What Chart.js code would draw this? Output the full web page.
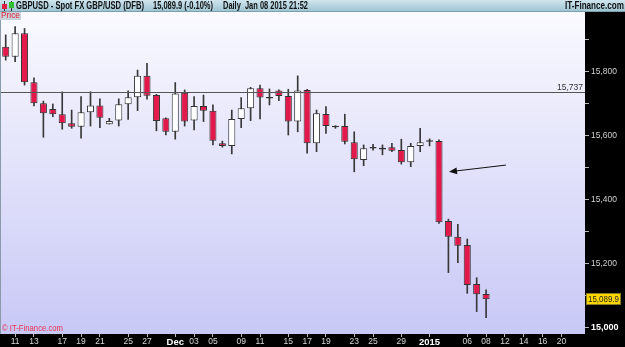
<!DOCTYPE html>
<html><head><meta charset="utf-8">
<script src="https://cdn.jsdelivr.net/npm/chart.js@4/dist/chart.umd.min.js"></script>
<style>html,body{margin:0;padding:0;background:#000;overflow:hidden}#wrap{width:625px;height:347px;position:relative}</style>
</head><body><div id="wrap"><canvas id="c" width="625" height="347"></canvas></div>
<script>
// ---- data ----
const dates = [
 '2014-11-10','2014-11-11','2014-11-12','2014-11-13','2014-11-14','2014-11-16','2014-11-17','2014-11-18','2014-11-19','2014-11-20','2014-11-21','2014-11-23','2014-11-24','2014-11-25','2014-11-26','2014-11-27','2014-11-28','2014-11-30',
 '2014-12-01','2014-12-02','2014-12-03','2014-12-04','2014-12-05','2014-12-07','2014-12-08','2014-12-09','2014-12-10','2014-12-11','2014-12-12','2014-12-14','2014-12-15','2014-12-16','2014-12-17','2014-12-18','2014-12-19','2014-12-21','2014-12-22','2014-12-23','2014-12-24','2014-12-25','2014-12-26','2014-12-28','2014-12-29','2014-12-30','2014-12-31',
 '2015-01-01','2015-01-02','2015-01-04','2015-01-05','2015-01-06','2015-01-07','2015-01-08',
 '2015-01-09','2015-01-12','2015-01-13','2015-01-14','2015-01-15','2015-01-16','2015-01-19','2015-01-20','2015-01-21','2015-01-22'
];
const tickLabels = [
 '','11','','13','','','17','','19','','21','','','25','','27','','',
 'Dec','','03','','05','','','09','','11','','','15','','17','','19','','','23','','25','','','29','','',
 '2015','','','','06','','08',
 '','12','','14','','16','','20','',''
];
const opens  = [15879,15848,15921,15768,15702,15684,15668,15640,15629,15674,15695,15637,15648,15699,15721,15788,15728,15655,
 15613,15735,15648,15694,15679,15577,15569,15653,15687,15749,15720,15742,15725,15645,15744,15577,15669,15629,15631,15580,15525,15563,15563,15565,15556,15518,15569,
 15582,15584,15334,15285,15259,15137,15106];
const highs  = [15916,15942,15936,15782,15709,15700,15738,15681,15723,15738,15716,15655,15716,15741,15806,15827,15730,15657,
 15767,15744,15723,15728,15697,15584,15681,15720,15752,15759,15747,15744,15746,15788,15746,15681,15692,15632,15668,15613,15572,15574,15572,15577,15590,15577,15624,
 15591,15588,15340,15324,15278,15157,15119];
const lows   = [15837,15832,15759,15694,15596,15660,15621,15624,15593,15631,15626,15637,15631,15652,15679,15715,15616,15603,
 15590,15631,15619,15645,15572,15565,15544,15626,15648,15653,15697,15710,15603,15613,15546,15551,15608,15624,15575,15488,15507,15556,15541,15551,15512,15504,15551,
 15569,15327,15173,15204,15108,15051,15032];
const closes = [15848,15921,15768,15702,15671,15668,15640,15629,15674,15695,15657,15647,15699,15721,15788,15726,15647,15613,
 15733,15645,15694,15679,15585,15569,15653,15687,15749,15720,15717,15725,15645,15742,15577,15671,15631,15627,15582,15527,15562,15561,15558,15554,15518,15569,15580,
 15584,15330,15285,15257,15134,15105,15089.9];
const yTickValues = [15000,15100,15200,15300,15400,15500,15600,15700,15800,15900];
const yTickLabels = ['15,000','','15,200','','15,400','','15,600','','15,800',''];
const refLevel = 15737;
const yMin = 14981, yMax = 15987.5;
const arrowFrom = {i: 53.1, v: 15509};
const arrowTo   = {i: 47.06, v: 15488};
const titleText = 'GBPUSD - Spot FX GBP/USD (DFB)';
const quoteText = '15,089.9 (-0.10%)';
const dateText  = 'Daily  Jan 08 2015 21:52';
const siteText  = 'IT-Finance.com';

// ---- build ----
const FAM = '"Liberation Sans", Arial, sans-serif';
const fmt = (v, d=0) => v.toFixed(d).replace(/\B(?=(\d{3})+(?!\d))/g, ',');
const bodies = opens.map((o,i)=>[o, closes[i]]);
const wicks = lows.map((l,i)=>[l, highs[i]]);
const bodyColors = opens.map((o,i)=> Math.abs(closes[i]-o) < 4 ? '#333' : (closes[i] < o ? '#E3184B' : '#FFFFFF'));
const lastClose = closes[closes.length-1];
const isBoldX = c => c && (tickLabels[c.index] === 'Dec' || tickLabels[c.index] === '2015');
const isBoldY = c => !!(c && c.tick && c.tick.value === 15000);

function drawFit(ctx, text, x, y, w, font, color, align) {
  ctx.save();
  ctx.font = font; ctx.fillStyle = color; ctx.textBaseline = 'middle'; ctx.textAlign = 'left';
  const m = ctx.measureText(text).width;
  const s = w / m;
  const x0 = align === 'right' ? x - w : x;
  ctx.translate(x0, y); ctx.scale(s, 1);
  ctx.fillText(text, 0, 0);
  ctx.restore();
}

const bgPlugin = {
  id: 'bg',
  beforeDraw(chart) {
    const {ctx, chartArea: a, width, height} = chart;
    ctx.save();
    ctx.fillStyle = '#000'; ctx.fillRect(0, 0, width, height);
    const g = ctx.createLinearGradient(0, a.top, 0, a.bottom);
    g.addColorStop(0, '#FAFAFF'); g.addColorStop(1, '#C8C8F6');
    ctx.fillStyle = g; ctx.fillRect(0, a.top, a.right, a.bottom - a.top);
    ctx.fillStyle = '#8A9AAA'; ctx.fillRect(0, a.top, 1, a.bottom - a.top);
    const h = ctx.createLinearGradient(0, 0, 0, a.top);
    h.addColorStop(0, '#CFE5EE'); h.addColorStop(1, '#9CC3D1');
    ctx.fillStyle = h; ctx.fillRect(0, 0, width, a.top);
    ctx.fillStyle = '#7C9FAE'; ctx.fillRect(0, a.top - 1, width, 1);
    ctx.restore();
  }
};

const overlayPlugin = {
  id: 'overlay',
  afterDatasetsDraw(chart) {
    const {ctx, chartArea: a, scales: {x, y}} = chart;
    ctx.save();
    const ry = Math.round(y.getPixelForValue(refLevel)) + 0.5;
    ctx.strokeStyle = '#555'; ctx.lineWidth = 1.2;
    ctx.beginPath(); ctx.moveTo(a.left, ry); ctx.lineTo(a.right, ry); ctx.stroke();
    ctx.fillStyle = '#333'; ctx.font = '8.5px ' + FAM;
    ctx.textAlign = 'right'; ctx.textBaseline = 'bottom';
    ctx.fillText(fmt(refLevel), a.right - 2, ry - 1);
    const x1 = x.getPixelForValue(arrowFrom.i), y1 = y.getPixelForValue(arrowFrom.v);
    const x2 = x.getPixelForValue(arrowTo.i), y2 = y.getPixelForValue(arrowTo.v);
    ctx.strokeStyle = '#111'; ctx.lineWidth = 1;
    ctx.beginPath(); ctx.moveTo(x1, y1); ctx.lineTo(x2 + 5, y2 - 0.6); ctx.stroke();
    const ang = Math.atan2(y2 - y1, x2 - x1);
    ctx.fillStyle = '#111';
    ctx.beginPath();
    ctx.moveTo(x2, y2);
    ctx.lineTo(x2 - 8*Math.cos(ang) + 3.5*Math.sin(ang), y2 - 8*Math.sin(ang) - 3.5*Math.cos(ang));
    ctx.lineTo(x2 - 8*Math.cos(ang) - 3.5*Math.sin(ang), y2 - 8*Math.sin(ang) + 3.5*Math.cos(ang));
    ctx.closePath(); ctx.fill();
    ctx.restore();
  },
  afterDraw(chart) {
    const {ctx, chartArea: a, scales: {y}, width} = chart;
    ctx.save();
    const py = Math.round(y.getPixelForValue(lastClose));
    ctx.fillStyle = '#FFD700'; ctx.fillRect(a.right + 1, py - 6, 35, 12);
    ctx.strokeStyle = '#8a7a20'; ctx.lineWidth = 1; ctx.strokeRect(a.right + 1.5, py - 5.5, 34, 11);
    drawFit(ctx, fmt(lastClose, 1), a.right + 3, py + 0.5, 31, '9px ' + FAM, '#222');
    const f = 'bold 10px ' + FAM;
    drawFit(ctx, titleText, 16, 6, 128, f, '#101010');
    drawFit(ctx, quoteText, 153, 6, 60, f, '#101010');
    drawFit(ctx, dateText, 223, 6, 85, f, '#101010');
    drawFit(ctx, siteText, width - 1, 6, 59, f, '#101010', 'right');
    ctx.fillStyle = '#333'; ctx.fillRect(4, 1, 1, 10); ctx.fillRect(11, 1, 1, 10);
    ctx.fillStyle = '#E02040'; ctx.fillRect(2, 4, 5, 5);
    ctx.fillStyle = '#30C030'; ctx.fillRect(9, 2, 5, 6);
    ctx.fillStyle = '#C9D2DA'; ctx.fillRect(0, a.top, 21, 8);
    drawFit(ctx, 'Price', 1, a.top + 4, 19, '9px ' + FAM, '#E0203C');
    drawFit(ctx, '\u00A9 IT-Finance.com', 2, a.bottom - 5, 61, '9px ' + FAM, '#E8324F');
    ctx.restore();
  }
};

new Chart(document.getElementById('c'), {
  type: 'bar',
  data: {
    labels: dates,
    datasets: [
      { label: 'body', data: bodies, backgroundColor: bodyColors, borderColor: '#333', borderWidth: 1,
        borderSkipped: false, grouped: false, barPercentage: 0.75, categoryPercentage: 1, minBarLength: 1.5, order: 0 },
      { label: 'wick', data: wicks, backgroundColor: '#383838', barThickness: 1, grouped: false,
        categoryPercentage: 1, order: 1 }
    ]
  },
  options: {
    responsive: false, animation: false, events: [],
    layout: { padding: { top: 12, left: 1, right: 0, bottom: 0 } },
    plugins: { legend: { display: false }, tooltip: { enabled: false } },
    scales: {
      x: {
        offset: true,
        grid: { offset: false, drawOnChartArea: false, drawTicks: true, tickLength: 3,
                color: c => tickLabels[c.index] ? '#BBB' : 'rgba(0,0,0,0)' },
        border: { display: false },
        ticks: { autoSkip: false, maxRotation: 0, minRotation: 0, padding: 0,
                 color: c => isBoldX(c) ? '#FFF' : '#D8D8D8',
                 font: c => isBoldX(c) ? { family: FAM, size: 9.5, weight: 'bold' } : { family: FAM, size: 8.5 },
                 callback: (v, i) => tickLabels[i] },
        afterFit: s => { s.height = 13; }
      },
      y: {
        position: 'right', min: yMin, max: yMax,
        afterBuildTicks: s => { s.ticks = yTickValues.map(v => ({value: v})); },
        grid: { drawOnChartArea: false, drawTicks: true, tickLength: 4, color: '#BBB' },
        border: { display: false },
        ticks: { autoSkip: false, padding: 2,
                 color: c => isBoldY(c) ? '#FFFFFF' : '#D0D0D0',
                 font: c => isBoldY(c) ? { family: FAM, size: 9, weight: 'bold' } : { family: FAM, size: 8.5 },
                 callback: (v, i) => yTickLabels[i] },
        afterFit: s => { s.width = 40; }
      }
    }
  },
  plugins: [bgPlugin, overlayPlugin]
});
</script>
</body></html>
